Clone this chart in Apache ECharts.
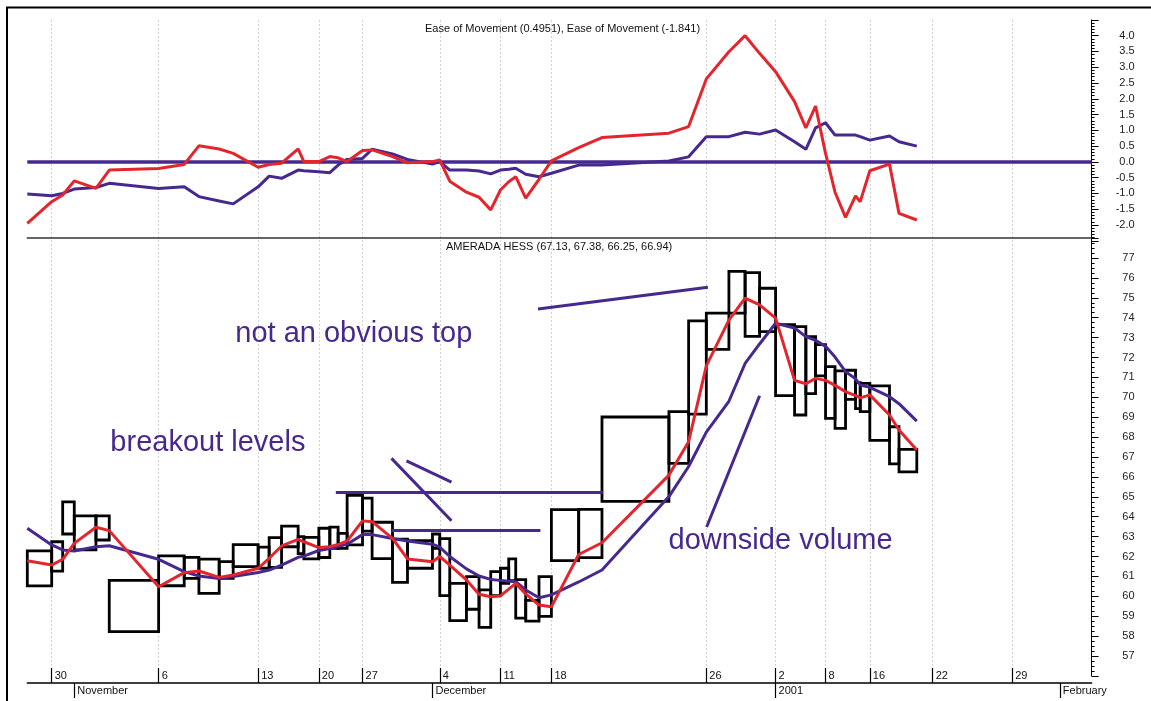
<!DOCTYPE html>
<html><head><meta charset="utf-8">
<script src="https://cdn.jsdelivr.net/npm/echarts@6/dist/echarts.min.js"></script>
<style>html,body{margin:0;padding:0;background:#fff}#c{width:1151px;height:701px}</style>
</head><body><div id="c"></div>
<script>
// ---- trading days (one equivolume box per day) ----
const dates = ['2000-10-27','2000-10-30','2000-10-31','2000-11-01','2000-11-02','2000-11-03','2000-11-06','2000-11-07','2000-11-08','2000-11-09','2000-11-10','2000-11-13','2000-11-14','2000-11-15','2000-11-16','2000-11-17','2000-11-20','2000-11-21','2000-11-22','2000-11-24','2000-11-27','2000-11-28','2000-11-29','2000-11-30','2000-12-01','2000-12-04','2000-12-05','2000-12-06','2000-12-07','2000-12-08','2000-12-11','2000-12-12','2000-12-13','2000-12-14','2000-12-15','2000-12-18','2000-12-19','2000-12-20','2000-12-21','2000-12-22','2000-12-26','2000-12-27','2000-12-28','2000-12-29','2001-01-02','2001-01-03','2001-01-04','2001-01-05','2001-01-08','2001-01-09','2001-01-10','2001-01-11','2001-01-12','2001-01-16','2001-01-17','2001-01-18'];
// relative volume (box width)
const volume = [24.4,11.0,11.6,21.7,13.3,49.4,25.6,14.7,20.3,14.0,25.0,11.0,12.4,16.6,5.7,15.0,11.0,8.3,9.0,15.4,9.6,20.4,15.0,25.0,7.3,10.0,16.7,12.6,11.7,9.7,8.3,7.0,10.0,13.3,12.4,27.3,23.3,67.0,19.7,17.7,22.6,16.2,14.5,16.0,19.0,11.3,9.7,10.0,9.5,10.5,10.0,4.7,9.6,19.7,9.5,17.8];
const high = [62.28,62.74,64.75,64.04,64.04,60.80,62.03,61.96,61.87,61.74,62.60,62.47,62.95,63.53,63.00,62.96,63.42,63.48,63.16,65.07,64.93,63.72,62.87,62.80,63.13,62.90,60.65,60.99,60.32,61.24,61.41,61.88,60.84,59.80,60.99,64.36,64.37,69.01,69.28,73.84,74.23,76.33,76.27,75.48,73.65,73.55,73.05,72.65,71.54,71.33,71.36,70.74,70.70,70.57,68.52,67.38];
const low = [60.52,61.27,63.13,62.33,62.83,58.22,60.53,60.90,60.15,60.90,61.49,61.41,61.45,62.49,62.14,61.88,61.95,62.41,62.41,62.58,63.28,61.89,60.70,61.41,62.41,60.03,58.78,59.35,58.44,60.03,60.65,60.79,58.90,58.75,58.99,61.79,61.94,64.77,66.68,69.15,72.41,74.23,73.06,73.30,70.08,69.11,70.18,71.08,68.94,68.44,69.90,69.43,69.28,67.84,66.65,66.25];
// moving averages / indicators, one value per box edge (first = start of first box)
const maShort = [61.79,61.57,61.86,62.66,63.47,63.30,60.48,61.19,61.27,60.95,61.07,61.41,61.91,62.53,62.86,62.74,62.45,62.49,62.60,62.78,63.79,63.75,62.91,61.88,61.74,62.00,61.57,60.82,60.10,59.98,60.02,60.36,60.65,60.12,59.56,59.47,62.10,62.69,66.09,67.77,71.58,73.88,74.98,74.64,73.98,70.85,70.68,70.95,70.85,70.60,70.28,70.08,69.97,70.12,69.11,68.36,67.35];
const maLong = [63.42,62.58,62.33,62.28,62.49,62.54,61.86,61.24,61.02,60.90,61.00,61.20,61.32,61.57,61.96,62.02,62.30,62.40,62.50,62.62,63.10,63.10,62.90,62.78,62.62,62.47,62.00,61.38,61.02,60.85,60.80,60.76,60.73,60.32,59.93,60.07,60.72,61.32,65.01,66.52,68.25,69.80,71.70,72.68,73.72,73.48,73.05,72.86,72.56,72.02,71.29,70.93,70.62,70.50,70.03,69.68,68.80];
const eomFast = [-1.95,-1.26,-1.05,-0.60,-0.84,-0.26,-0.21,-0.08,0.51,0.41,0.27,-0.17,-0.08,-0.04,0.41,0.01,0.01,0.17,0.13,0.01,0.36,0.38,0.17,-0.03,0.01,0.06,-0.61,-0.96,-1.12,-1.52,-0.89,-0.63,-0.47,-1.15,-0.55,0.03,0.45,0.77,0.91,1.12,2.63,3.49,4.00,3.44,2.86,1.91,1.08,1.77,0.27,-0.96,-1.76,-1.08,-1.26,-0.28,-0.07,-1.63,-1.84];
const eomSlow = [-1.02,-1.07,-1.00,-0.86,-0.81,-0.68,-0.84,-0.79,-1.10,-1.24,-1.33,-0.79,-0.45,-0.52,-0.26,-0.28,-0.31,-0.34,-0.10,0.08,0.11,0.40,0.25,0.08,-0.07,0.01,-0.26,-0.26,-0.29,-0.38,-0.26,-0.23,-0.20,-0.39,-0.47,-0.36,-0.10,-0.10,0.03,0.16,0.80,0.80,0.94,0.88,1.01,0.64,0.40,1.08,1.24,0.85,0.85,0.85,0.80,0.69,0.82,0.64,0.50];
// projected empty days on the right of the chart
const futureDates = ['2001-01-19','2001-01-22','2001-01-23','2001-01-24','2001-01-25','2001-01-26','2001-01-29','2001-01-30','2001-01-31','2001-02-01','2001-02-02'];
const projectedVolume = 15.9;
// axis labels
const dayTickDates = ['2000-10-30','2000-11-06','2000-11-13','2000-11-20','2000-11-27','2000-12-04','2000-12-11','2000-12-18','2000-12-26','2001-01-02','2001-01-08','2001-01-16','2001-01-22','2001-01-29'];
const dayTickLabels = ['30','6','13','20','27','4','11','18','26','2','8','16','22','29'];
const monthTickDates = ['2000-11-01','2000-12-01','2001-01-02','2001-02-01'];
const monthTickLabels = ['November','December','2001','February'];
const priceLabels = [57,58,59,60,61,62,63,64,65,66,67,68,69,70,71,72,73,74,75,76,77];
const eomLabels = [-2.0,-1.5,-1.0,-0.5,0.0,0.5,1.0,1.5,2.0,2.5,3.0,3.5,4.0];
// annotations (x in cumulative volume, y in price)
const annotationTexts = [
  {text:'not an obvious top', x:326.7, y:73.18},
  {text:'breakout levels', x:180.7, y:67.70},
  {text:'downside volume', x:753.7, y:62.78}
];
const annotationLines = [
  [[511.0,74.44],[681.0,75.53]],
  [[308.7,65.22],[575.7,65.22]],
  [[364.4,63.33],[513.4,63.33]],
  [[364.4,66.93],[424.4,63.80]],
  [[379.4,66.81],[424.4,65.74]],
  [[679.7,63.48],[732.7,70.08]]
];
const titleEom = 'Ease of Movement (0.4951), Ease of Movement (-1.841)';
const titlePrice = 'AMERADA HESS (67.13, 67.38, 66.25, 66.94)';

// ---- derived ----
const allDates = dates.concat(futureDates);
const allVol = volume.concat(futureDates.map(() => projectedVolume));
const cum = [0];
allVol.forEach(v => cum.push(cum[cum.length - 1] + v));
const xMax = cum[cum.length - 1];
const posOf = d => cum[allDates.indexOf(d)];
const dayPos = dayTickDates.map(posOf);
const monthPos = monthTickDates.map(posOf);
const nearestLabel = (positions, labels) => v => {
  let best = 0, bd = Infinity;
  positions.forEach((p, i) => { const d = Math.abs(p - v); if (d < bd) { bd = d; best = i; } });
  return labels[best];
};
const boxes = dates.map((d, i) => [cum[i], cum[i + 1], high[i], low[i]]);
const edgeSeries = arr => arr.map((v, i) => [cum[i], v]);

const PURPLE = '#47288f', RED = '#e3262d';
const FONT = 'Liberation Sans, Arial, sans-serif';
const L = 27.3, R = 59.4;

const chart = echarts.init(document.getElementById('c'), null, {renderer: 'canvas'});
chart.setOption({
  animation: false,
  backgroundColor: '#fff',
  textStyle: {fontFamily: FONT},
  title: [
    {text: titleEom, left: 425, top: 23, padding: 0, textStyle: {fontSize: 11, fontWeight: 'normal', color: '#111', fontFamily: FONT}},
    {text: titlePrice, left: 446, top: 241, padding: 0, textStyle: {fontSize: 11, fontWeight: 'normal', color: '#111', fontFamily: FONT}}
  ],
  graphic: [
    {type: 'rect', shape: {x: 7, y: 7.5, width: 1160, height: 710}, style: {fill: 'none', stroke: '#000', lineWidth: 2}, silent: true, z: 100}
  ],
  grid: [
    {left: L, right: R, top: 19.9, height: 220.9},
    {left: L, right: R, top: 238.1, height: 437.8},
    {left: L, right: R, top: 19.9, height: 648.1},
    {left: L, right: R, top: 668, height: 15}
  ],
  xAxis: [
    {gridIndex: 0, type: 'value', min: 0, max: xMax, show: false},
    {gridIndex: 1, type: 'value', min: 0, max: xMax, position: 'top', axisLine: {show: true, onZero: false, lineStyle: {color: '#333', width: 1.5}}, axisTick: {show: false}, axisLabel: {show: false}, splitLine: {show: false}},
    {gridIndex: 2, type: 'value', min: 0, max: xMax, axisLine: {show: false},
      axisTick: {show: false, customValues: dayPos}, axisLabel: {show: false, customValues: dayPos},
      splitLine: {show: true, lineStyle: {color: '#cfcfcf', type: [2, 2], width: 1}}},
    {gridIndex: 3, type: 'value', min: 0, max: xMax, position: 'bottom',
      axisLine: {show: true, onZero: false, lineStyle: {color: '#000', width: 1.5}},
      axisTick: {show: true, inside: true, length: 15, customValues: dayPos, lineStyle: {color: '#000', width: 1.2}},
      axisLabel: {show: true, inside: true, customValues: dayPos, formatter: nearestLabel(dayPos, dayTickLabels), align: 'left', padding: [0, 0, 0, 3], margin: 2, fontSize: 11, color: '#111', fontFamily: FONT, showMinLabel: true, showMaxLabel: true},
      splitLine: {show: false}},
    {gridIndex: 3, type: 'value', min: 0, max: xMax, position: 'bottom',
      axisLine: {show: false, onZero: false},
      axisTick: {show: true, inside: false, length: 15, customValues: monthPos, lineStyle: {color: '#000', width: 1.2}},
      axisLabel: {show: true, customValues: monthPos, formatter: nearestLabel(monthPos, monthTickLabels), align: 'left', padding: [0, 0, 0, 3], margin: 2, fontSize: 11, color: '#111', fontFamily: FONT, showMinLabel: true, showMaxLabel: true},
      splitLine: {show: false}}
  ],
  yAxis: [
    {gridIndex: 0, type: 'value', position: 'right', min: -2.5, max: 4.5, interval: 0.5,
      axisLine: {show: true, onZero: false, lineStyle: {color: '#000', width: 1}},
      axisTick: {show: true, length: 7, lineStyle: {color: '#000'}},
      minorTick: {show: true, splitNumber: 5, length: 3, lineStyle: {color: '#000'}},
      axisLabel: {customValues: eomLabels, formatter: v => v.toFixed(1), align: 'right', margin: 43, fontSize: 11, color: '#222', fontFamily: FONT},
      splitLine: {show: false}},
    {gridIndex: 1, type: 'value', position: 'right', min: 56, max: 78, interval: 1,
      axisLine: {show: true, onZero: false, lineStyle: {color: '#000', width: 1}},
      axisTick: {show: true, length: 7, lineStyle: {color: '#000'}},
      minorTick: {show: true, splitNumber: 4, length: 3, lineStyle: {color: '#000'}},
      axisLabel: {customValues: priceLabels, formatter: v => String(v), align: 'right', margin: 43, fontSize: 11, color: '#222', fontFamily: FONT},
      splitLine: {show: false}},
    {gridIndex: 2, type: 'value', min: 0, max: 1, show: false},
    {gridIndex: 3, type: 'value', min: 0, max: 1, show: false}
  ],
  series: [
    {type: 'custom', name: 'Equivolume', xAxisIndex: 1, yAxisIndex: 1, z: 2,
      data: boxes,
      encode: {x: [0, 1], y: [2, 3]},
      renderItem: (params, api) => {
        const p1 = api.coord([api.value(0), api.value(2)]);
        const p2 = api.coord([api.value(1), api.value(3)]);
        return {type: 'rect', shape: {x: p1[0], y: p1[1], width: p2[0] - p1[0], height: p2[1] - p1[1]},
          style: {fill: 'none', stroke: '#000', lineWidth: 2.8}};
      }},
    {type: 'line', name: 'MA long', xAxisIndex: 1, yAxisIndex: 1, z: 4, data: edgeSeries(maLong), symbol: 'none',
      lineStyle: {color: PURPLE, width: 3}, itemStyle: {color: PURPLE},
      markLine: {silent: true, symbol: 'none', label: {show: false}, lineStyle: {color: PURPLE, width: 3, type: 'solid'},
        data: annotationLines.map(l => [{coord: l[0]}, {coord: l[1]}])}},
    {type: 'line', name: 'MA short', xAxisIndex: 1, yAxisIndex: 1, z: 5, data: edgeSeries(maShort), symbol: 'none',
      lineStyle: {color: RED, width: 3}, itemStyle: {color: RED}},
    {type: 'scatter', name: 'notes', xAxisIndex: 1, yAxisIndex: 1, z: 6, symbolSize: 0.1,
      itemStyle: {color: 'rgba(0,0,0,0)', opacity: 1},
      data: annotationTexts.map(a => ({value: [a.x, a.y], name: a.text})),
      label: {show: true, position: 'inside', formatter: p => p.name, fontSize: 29, color: PURPLE, opacity: 1, textBorderWidth: 0, textShadowBlur: 0, fontFamily: FONT}},
    {type: 'line', name: 'EOM slow', xAxisIndex: 0, yAxisIndex: 0, z: 4, data: edgeSeries(eomSlow), symbol: 'none',
      lineStyle: {color: PURPLE, width: 3}, itemStyle: {color: PURPLE},
      markLine: {silent: true, symbol: 'none', label: {show: false}, lineStyle: {color: PURPLE, width: 3.5, type: 'solid'}, data: [{yAxis: 0}]}},
    {type: 'line', name: 'EOM fast', xAxisIndex: 0, yAxisIndex: 0, z: 5, data: edgeSeries(eomFast), symbol: 'none',
      lineStyle: {color: RED, width: 3}, itemStyle: {color: RED}}
  ]
});
</script>
</body></html>
